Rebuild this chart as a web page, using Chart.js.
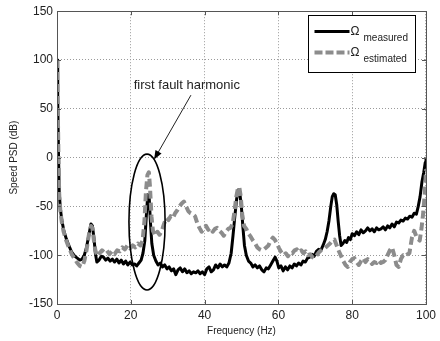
<!DOCTYPE html>
<html>
<head>
<meta charset="utf-8">
<script src="https://cdn.jsdelivr.net/npm/chart.js@4.4.1/dist/chart.umd.min.js"></script>
<style>
  html, body { margin: 0; padding: 0; background: #fff; }
  #psd { display: block; }
</style>
</head>
<body>
<canvas id="psd" width="440" height="341"></canvas>
<script>
// measured speed PSD (black, solid)
const measuredHz = [0, 0.2, 0.4, 0.6, 0.9, 1.3, 1.8, 2.5, 3.2, 4, 4.8, 5.5, 6.2, 6.8, 7.4, 8, 8.6, 9.2, 9.6, 10,
  10.4, 10.8, 11.4, 12, 12.6, 13.2, 13.8, 14.4, 15, 15.6, 16.2, 16.8, 17.4, 18, 18.6, 19.2, 19.8, 20.4, 21, 21.6,
  22.2, 22.8, 23.3, 23.8, 24.2, 24.6, 25, 25.3, 25.7, 26.2, 26.8, 27.4, 28, 28.6, 29.2, 29.8, 30.4, 31, 31.6, 32.2,
  32.8, 33.4, 34, 34.6, 35.2, 35.8, 36.4, 37, 37.6, 38.2, 38.8, 39.4, 40, 40.6, 41.2, 41.8, 42.4, 43, 43.6, 44.2,
  44.8, 45.4, 46, 46.6, 47.2, 47.7, 48.2, 48.7, 49.2, 49.6, 50, 50.4, 50.8, 51.3, 51.9, 52.5, 53.1, 53.7, 54.3, 54.9,
  55.5, 56.1, 56.7, 57.3, 57.9, 58.5, 59.1, 59.6, 60.1, 60.7, 61.3, 61.9, 62.5, 63.1, 63.7, 64.3, 64.9, 65.5, 66.1, 66.7,
  67.3, 67.9, 68.5, 69.1, 69.7, 70.3, 70.9, 71.5, 72.1, 72.7, 73.2, 73.7, 74.2, 74.6, 75, 75.4, 75.8, 76.2, 76.6, 77,
  77.5, 78, 78.5, 79, 79.5, 80, 80.6, 81.2, 81.8, 82.4, 83, 83.6, 84.2, 84.8, 85.4, 86, 86.6, 87.2, 87.8, 88.4,
  89, 89.6, 90.2, 90.8, 91.4, 92, 92.6, 93.2, 93.8, 94.4, 95, 95.6, 96.2, 96.8, 97.4, 97.9, 98.4, 98.9, 99.4, 99.8, 100];
const measuredDb = [100, 60, 5, -35, -52, -64, -74, -83, -90, -97, -101, -103, -105, -104, -100, -92, -80, -68, -70, -82,
  -98, -107, -105, -101, -102, -105, -103, -106, -104, -107, -104, -108, -105, -109, -106, -110, -107, -110, -109, -111,
  -108, -105, -98, -85, -60, -38, -42, -65, -88, -100, -106, -110, -108, -112, -110, -114, -112, -116, -114, -120,
  -115, -113, -117, -114, -118, -116, -119, -117, -118, -116, -119, -117, -120, -114, -112, -117, -115, -110, -113, -109,
  -112, -110, -112, -108, -98, -80, -60, -42, -33, -38, -52, -72, -90, -100, -106, -108, -112, -110, -113, -111,
  -115, -117, -113, -114, -110, -106, -102, -106, -113, -111, -116, -112, -115, -111, -113, -109, -111, -108, -110, -106,
  -107, -103, -102, -99, -101, -96, -94, -95, -90, -84, -76, -65, -50, -40, -37, -38, -48, -65, -80, -90,
  -88, -85, -87, -82, -84, -78, -80, -76, -79, -74, -77, -75, -72, -75, -73, -76, -72, -74, -73, -71,
  -74, -70, -72, -68, -71, -66, -67, -64, -65, -62, -63, -60, -61, -57, -58, -50, -40, -25, -15, -5, 0];

// estimated speed PSD (grey, dashed)
const estimatedHz = [0, 0.2, 0.4, 0.6, 0.9, 1.3, 1.8, 2.5, 3.2, 4, 4.8, 5.5, 6.2, 6.8, 7.4, 8, 8.6, 9.2, 9.6, 10,
  10.4, 10.9, 11.5, 12.2, 12.8, 13.5, 14.2, 14.9, 15.6, 16.3, 17, 17.7, 18.4, 19.1, 19.8, 20.5, 21.2, 21.9, 22.6, 23.2,
  23.7, 24.1, 24.5, 24.9, 25.2, 25.6, 26, 26.6, 27.2, 27.8, 28.4, 29, 29.6, 30.2, 30.8, 31.4, 32, 32.6, 33.2, 33.8,
  34.4, 35, 35.6, 36.2, 36.8, 37.4, 38, 38.6, 39.2, 39.8, 40.4, 41, 41.6, 42.2, 42.8, 43.4, 44, 44.6, 45.2, 45.8,
  46.4, 47, 47.6, 48.1, 48.6, 49, 49.4, 49.8, 50.2, 50.7, 51.3, 51.9, 52.5, 53.1, 53.7, 54.3, 54.9, 55.5, 56.1, 56.7,
  57.3, 57.9, 58.5, 59, 59.6, 60.2, 60.8, 61.4, 62, 62.6, 63.2, 63.8, 64.4, 65, 65.6, 66.2, 66.8, 67.4, 68, 68.6,
  69.2, 69.8, 70.4, 71, 71.6, 72.2, 72.8, 73.4, 74, 74.6, 75.2, 75.8, 76.4, 77, 77.6, 78.2, 78.8, 79.4, 80, 80.6,
  81.2, 81.8, 82.4, 83, 83.6, 84.2, 84.8, 85.4, 86, 86.6, 87.2, 87.8, 88.4, 89, 89.6, 90.2, 90.8, 91.4, 92, 92.6,
  93.2, 93.8, 94.4, 95, 95.5, 96.2, 96.8, 97.5, 98.3, 98.8, 99.3, 99.7, 100];
const estimatedDb = [100, 55, 0, -38, -54, -66, -76, -85, -92, -99, -104, -108, -111, -112, -106, -95, -80, -70, -72, -85,
  -95, -101, -98, -95, -97, -95, -99, -96, -99, -95, -96, -92, -94, -90, -93, -90, -92, -88, -90, -85,
  -65, -35, -18, -15, -30, -60, -75, -80, -76, -79, -75, -68, -62, -64, -60, -62, -57, -54, -50, -47,
  -45, -50, -55, -57, -58, -60, -67, -72, -76, -73, -70, -74, -72, -76, -73, -72, -75, -77, -80, -76,
  -73, -72, -68, -55, -40, -32, -30, -40, -58, -70, -73, -78, -81, -85, -88, -92, -94, -95, -94, -92,
  -90, -85, -82, -84, -88, -93, -97, -100, -98, -101, -97, -98, -95, -94, -97, -95, -98, -96, -100, -99,
  -102, -103, -100, -97, -95, -94, -92, -90, -88, -85, -84, -90, -96, -101, -106, -110, -112, -107, -104, -103,
  -107, -110, -106, -103, -107, -104, -106, -109, -107, -108, -105, -108, -107, -105, -100, -95, -92, -100, -110, -112,
  -104, -100, -101, -99, -98, -82, -75, -82, -85, -72, -55, -35, -12];

const freqTicks = [0, 20, 40, 60, 80, 100];
const dbTicks = [-150, -100, -50, 0, 50, 100, 150];

// ellipse around the 25 Hz peak, and the callout pointing at it (data units)
const faultEllipse = { hz: 24.4, db: -66, halfHz: 4.9, halfDb: 69.6 };
const calloutText = 'first fault harmonic';
const calloutAt = { hz: 20.8, db: 74 };
const arrowFrom = { hz: 36.3, db: 64 };
const arrowTo = { hz: 26.3, db: -2 };

function pairs(xs, ys) {
  return xs.map((v, i) => ({ x: v, y: ys[i] }));
}

// box frame, inward ticks, annotation and legend
const plotExtras = {
  id: 'plotExtras',
  afterDatasetsDraw(chart) {
    const { ctx, chartArea: a, scales: { x, y } } = chart;
    ctx.save();

    // ellipse
    const cx = x.getPixelForValue(faultEllipse.hz);
    const cy = y.getPixelForValue(faultEllipse.db);
    const rx = Math.abs(x.getPixelForValue(faultEllipse.hz + faultEllipse.halfHz) - cx);
    const ry = Math.abs(y.getPixelForValue(faultEllipse.db + faultEllipse.halfDb) - cy);
    ctx.strokeStyle = '#000';
    ctx.lineWidth = 1.6;
    ctx.beginPath();
    ctx.ellipse(cx, cy, rx, ry, 0, 0, Math.PI * 2);
    ctx.stroke();

    // arrow
    const x0 = x.getPixelForValue(arrowFrom.hz), y0 = y.getPixelForValue(arrowFrom.db);
    const x1 = x.getPixelForValue(arrowTo.hz), y1 = y.getPixelForValue(arrowTo.db);
    const ang = Math.atan2(y1 - y0, x1 - x0);
    ctx.lineWidth = 1;
    ctx.strokeStyle = '#222';
    ctx.beginPath();
    ctx.moveTo(x0, y0);
    ctx.lineTo(x1 - 6 * Math.cos(ang), y1 - 6 * Math.sin(ang));
    ctx.stroke();
    ctx.fillStyle = '#000';
    ctx.beginPath();
    ctx.moveTo(x1, y1);
    ctx.lineTo(x1 - 9 * Math.cos(ang) + 3.5 * Math.sin(ang), y1 - 9 * Math.sin(ang) - 3.5 * Math.cos(ang));
    ctx.lineTo(x1 - 9 * Math.cos(ang) - 3.5 * Math.sin(ang), y1 - 9 * Math.sin(ang) + 3.5 * Math.cos(ang));
    ctx.closePath();
    ctx.fill();

    ctx.font = '13px Arial, "Liberation Sans", sans-serif';
    ctx.fillStyle = '#222';
    ctx.textBaseline = 'middle';
    ctx.textAlign = 'left';
    ctx.fillText(calloutText, x.getPixelForValue(calloutAt.hz), y.getPixelForValue(calloutAt.db));

    // frame and inward ticks on all sides
    ctx.strokeStyle = '#555';
    ctx.lineWidth = 1;
    ctx.strokeRect(Math.round(a.left) + 0.5, Math.round(a.top) + 0.5,
      Math.round(a.right - a.left), Math.round(a.bottom - a.top));
    ctx.beginPath();
    freqTicks.forEach(v => {
      const px = Math.round(x.getPixelForValue(v)) + 0.5;
      ctx.moveTo(px, a.bottom); ctx.lineTo(px, a.bottom - 4);
      ctx.moveTo(px, a.top); ctx.lineTo(px, a.top + 4);
    });
    dbTicks.forEach(v => {
      const py = Math.round(y.getPixelForValue(v)) + 0.5;
      ctx.moveTo(a.left, py); ctx.lineTo(a.left + 4, py);
      ctx.moveTo(a.right, py); ctx.lineTo(a.right - 4, py);
    });
    ctx.stroke();

    // legend
    const bx = Math.round(a.right) - 117.5, by = Math.round(a.top) + 4.5, bw = 107, bh = 57;
    ctx.fillStyle = '#fff';
    ctx.fillRect(bx, by, bw, bh);
    ctx.strokeStyle = '#000';
    ctx.lineWidth = 1;
    ctx.strokeRect(bx, by, bw, bh);

    const rows = [
      { sub: 'measured', color: '#000', width: 3, dash: [], dy: 16 },
      { sub: 'estimated', color: '#8c8c8c', width: 4, dash: [8, 3], dy: 37 }
    ];
    rows.forEach(r => {
      const ly = by + r.dy;
      ctx.save();
      ctx.strokeStyle = r.color;
      ctx.lineWidth = r.width;
      ctx.setLineDash(r.dash);
      ctx.beginPath();
      ctx.moveTo(bx + 6, ly);
      ctx.lineTo(bx + 41, ly);
      ctx.stroke();
      ctx.restore();
      ctx.fillStyle = '#222';
      ctx.textBaseline = 'alphabetic';
      ctx.font = '12px Arial, "Liberation Sans", sans-serif';
      ctx.fillText('\u03A9', bx + 42, ly + 3);
      ctx.font = '10px Arial, "Liberation Sans", sans-serif';
      ctx.fillText(r.sub, bx + 55, ly + 9);
    });

    ctx.restore();
  }
};

const chart = new Chart(document.getElementById('psd').getContext('2d'), {
  type: 'line',
  data: {
    datasets: [
      {
        label: 'measured',
        data: pairs(measuredHz, measuredDb),
        borderColor: '#000',
        borderWidth: 3,
        order: 2
      },
      {
        label: 'estimated',
        data: pairs(estimatedHz, estimatedDb),
        borderColor: '#8c8c8c',
        borderWidth: 4,
        borderDash: [8, 4],
        order: 1
      }
    ]
  },
  options: {
    responsive: false,
    animation: false,
    devicePixelRatio: 1,
    layout: { padding: { top: 11, right: 11, left: 0, bottom: 0 } },
    elements: {
      point: { radius: 0 },
      line: { tension: 0, borderJoinStyle: 'round', borderCapStyle: 'butt' }
    },
    plugins: {
      legend: { display: false },
      tooltip: { enabled: false }
    },
    scales: {
      x: {
        type: 'linear',
        min: 0,
        max: 100,
        afterBuildTicks(scale) { scale.ticks = freqTicks.map(v => ({ value: v })); },
        afterFit(scale) { scale.height = 37; },
        grid: { color: '#9a9a9a', drawTicks: false },
        border: { color: '#555', dash: [1, 2] },
        ticks: { padding: 4, color: '#222', font: { family: 'Arial, "Liberation Sans", sans-serif', size: 12 } },
        title: {
          display: true,
          text: 'Frequency (Hz)',
          color: '#222',
          padding: { bottom: 4, top: 0 },
          font: { family: 'Arial, "Liberation Sans", sans-serif', size: 10 }
        }
      },
      y: {
        type: 'linear',
        min: -150,
        max: 150,
        afterBuildTicks(scale) { scale.ticks = dbTicks.map(v => ({ value: v })); },
        afterFit(scale) { scale.width = 57; },
        grid: { color: '#9a9a9a', drawTicks: false },
        border: { color: '#555', dash: [1, 2] },
        ticks: { padding: 4, color: '#222', font: { family: 'Arial, "Liberation Sans", sans-serif', size: 12 } },
        title: {
          display: true,
          text: 'Speed PSD (dB)',
          color: '#222',
          padding: { top: 8, bottom: 0 },
          font: { family: 'Arial, "Liberation Sans", sans-serif', size: 10 }
        }
      }
    }
  },
  plugins: [plotExtras]
});
</script>
</body>
</html>
